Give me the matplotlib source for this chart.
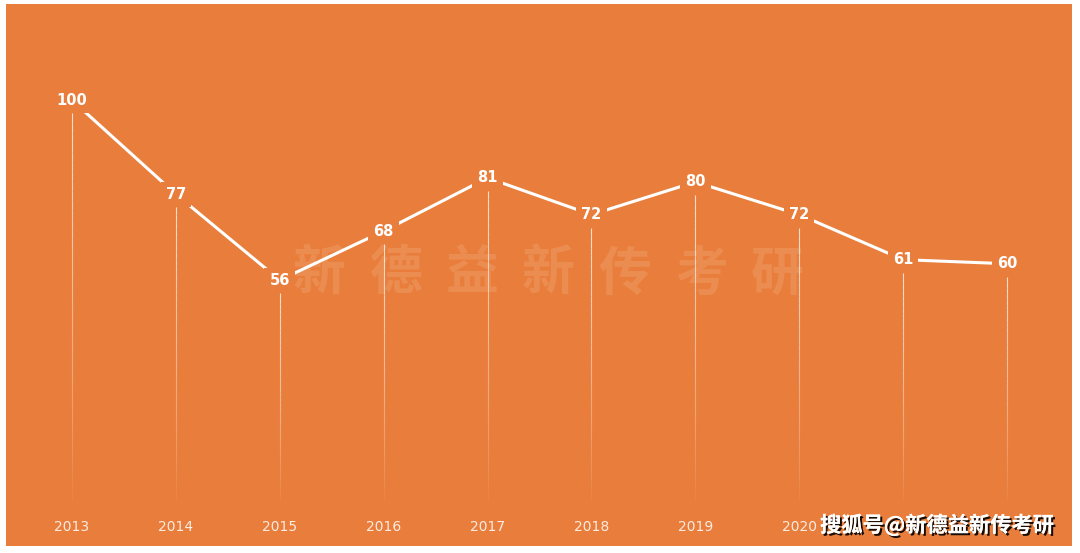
import matplotlib.pyplot as plt
import matplotlib.patheffects as path_effects
import numpy as np

plt.rcParams['font.family'] = ['Noto Sans CJK SC', 'DejaVu Sans']

years = ['2013', '2014', '2015', '2016', '2017', '2018', '2019', '2020', '2021', '2022']
values = [100, 77, 56, 68, 81, 72, 80, 72, 61, 60]
# last two year labels are hidden under the credit stamp in the original
shown_years = 8
watermark = '新德益新传考研'
credit = '搜狐号@新德益新传考研'

bg = '#E97E3C'

fig = plt.figure(figsize=(10.8, 5.53), dpi=100, facecolor='white')
ax = fig.add_axes([6 / 1080, 7 / 553, 1066 / 1080, 542 / 553])
ax.set_facecolor(bg)
x = np.arange(len(years))
ax.set_xlim(-0.635, 9.625)
ax.set_ylim(-9.0, 123.5)
for s in ax.spines.values():
    s.set_visible(False)
ax.set_xticks([])
ax.set_yticks([])

# faint big watermark behind the data
for i, ch in enumerate(watermark):
    ax.text(2.38 + i * 0.735, 57.5, ch, ha='center', va='center', fontsize=38,
            fontweight='black', color='white', alpha=0.11, zorder=1)

# drop lines fading downwards
n = 40
for xi, v in zip(x, values):
    top = v - 3.2
    edges = np.linspace(top, 2, n + 1)
    for k in range(n):
        a = 0.75 * (1 - k / n) ** 0.8
        ax.plot([xi, xi], [edges[k], edges[k + 1]], color='white', lw=0.8,
                alpha=a, solid_capstyle='butt', zorder=2)

ax.plot(x, values, color='white', lw=2.2, zorder=3)

for xi, v in zip(x, values):
    ax.text(xi, v, str(v), ha='center', va='center', fontsize=10.5,
            fontweight='bold', color='white', family=['DejaVu Sans'], zorder=5,
            bbox=dict(boxstyle='square,pad=0.35', facecolor=bg, edgecolor='none'))

for xi, y in zip(x[:shown_years], years[:shown_years]):
    ax.text(xi, -4.3, y, ha='center', va='center', fontsize=10,
            color='white', alpha=0.85, family=['DejaVu Sans'], zorder=4)

t = ax.text(7.20, -4.0, credit, ha='left', va='center', fontsize=15.3,
            fontweight='bold', color='white', zorder=6)
t.set_path_effects([path_effects.withSimplePatchShadow(offset=(1.5, -1.5),
                                                        shadow_rgbFace='black', alpha=0.9),
                    path_effects.Normal()])

fig.savefig('out.png', dpi=100, facecolor='white')
